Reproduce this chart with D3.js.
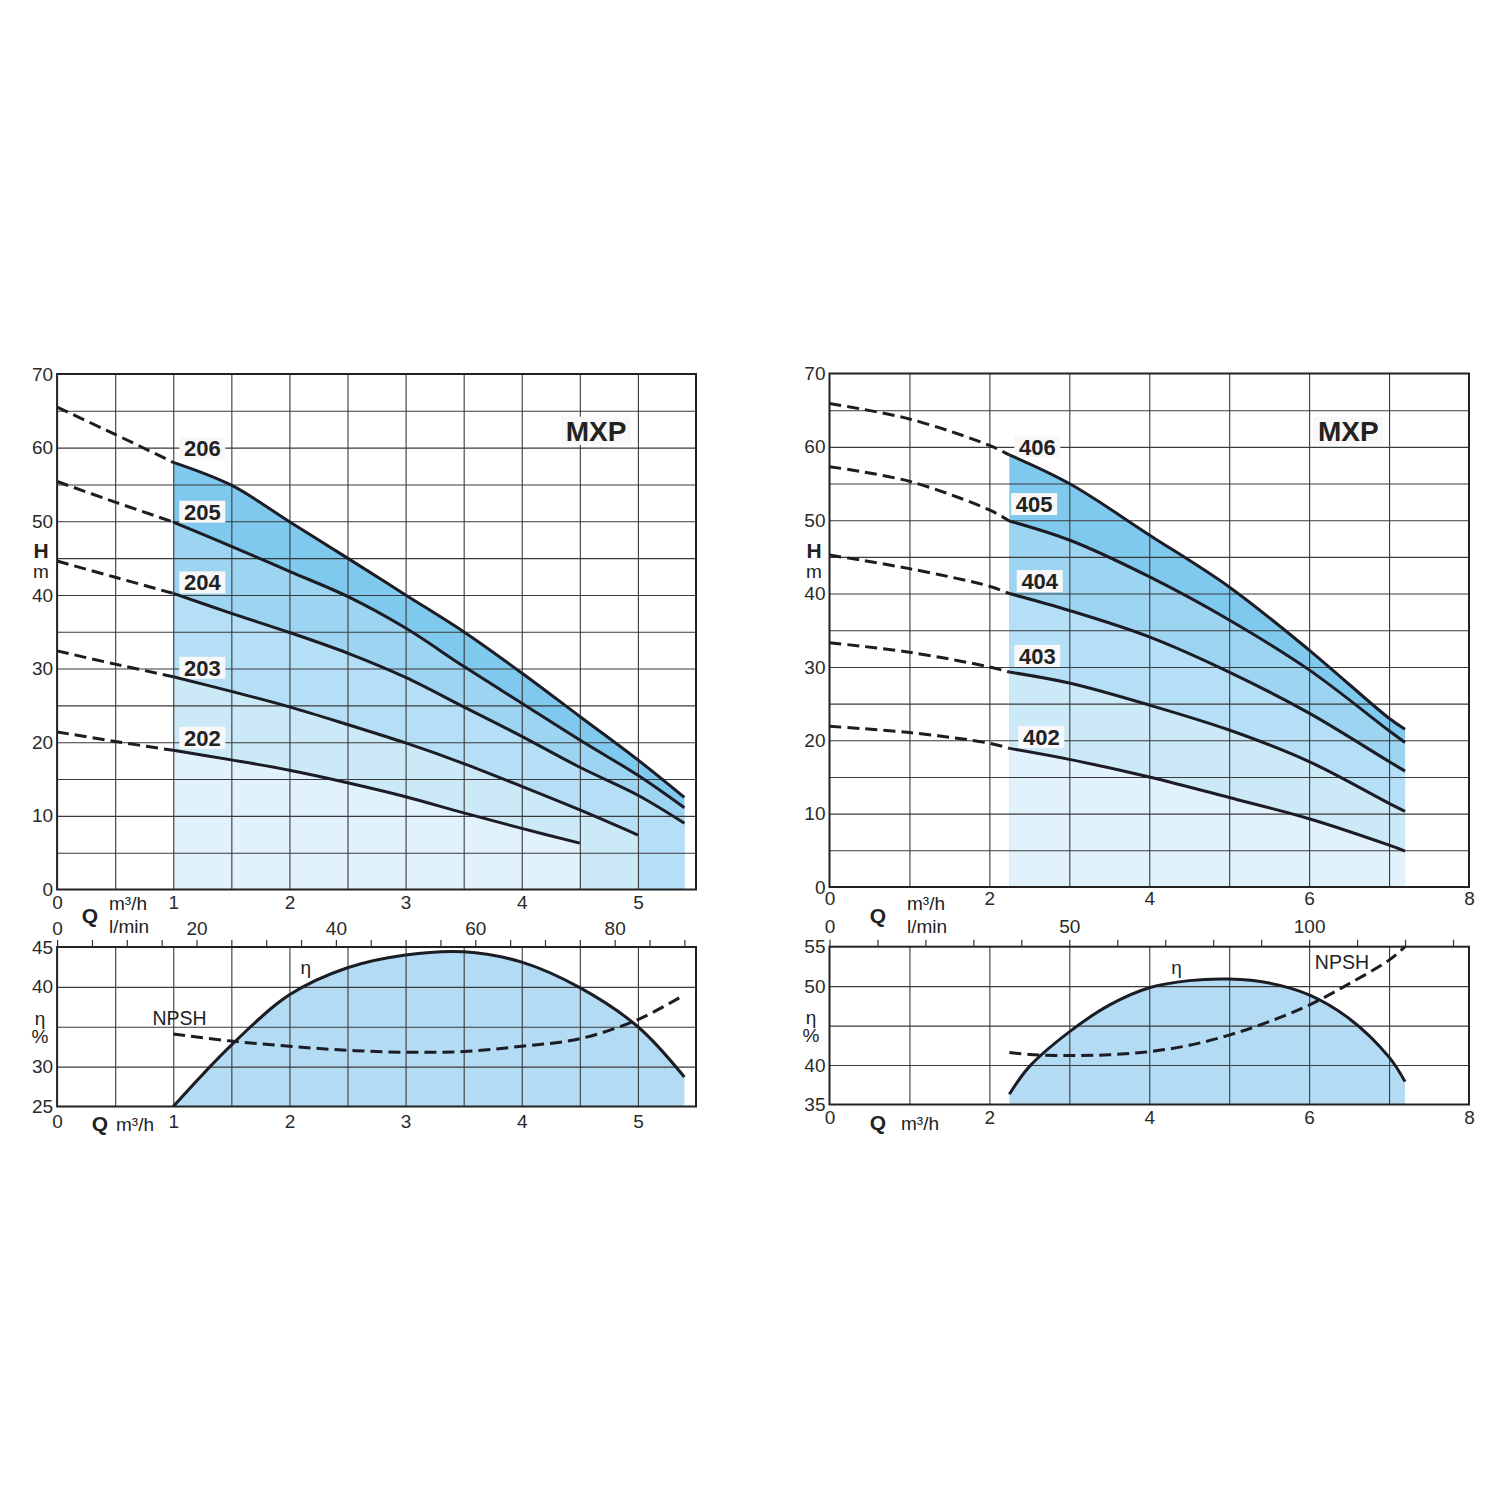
<!DOCTYPE html>
<html lang="en">
<head>
<meta charset="utf-8">
<title>MXP pump curves</title>
<script src="https://cdn.jsdelivr.net/npm/d3@7"></script>
<style>
  body { margin: 0; background: #fff; }
  text { font-family: "Liberation Sans", Arial, Helvetica, sans-serif; }
</style>
</head>
<body>
<script>

// ---- left set: MXP 202..206 ----
var leftModels = ["206", "205", "204", "203", "202"];
var qLeft = [1, 1.5, 2, 2.5, 3, 3.5, 4, 4.5, 5, 5.4];
var qLeftDash = [0, 0.5, 1];
var h206 = [58.0, 54.9, 49.95, 45.0, 40.0, 35.0, 29.4, 23.5, 17.6, 12.5];
var h205 = [49.9, 46.6, 43.2, 39.8, 35.5, 30.3, 25.3, 20.3, 15.5, 11.1];
var h204 = [40.2, 37.5, 34.9, 32.1, 28.8, 24.8, 20.8, 16.6, 12.8, 9.0];
var h203 = [28.9, 26.9, 24.8, 22.4, 19.9, 17.1, 14.0, 10.8, 7.4];
var h202 = [18.9, 17.6, 16.2, 14.5, 12.6, 10.4, 8.3, 6.3];
var h206Dash = [65.5, 61.8, 58.0];
var h205Dash = [55.4, 52.6, 49.9];
var h204Dash = [44.6, 42.4, 40.2];
var h203Dash = [32.4, 30.6, 28.9];
var h202Dash = [21.4, 20.1, 18.9];
var etaLeft  = [25.0, 32.7, 39.0, 42.4, 44.0, 44.4, 43.1, 39.9, 35.0, 28.7];
var npshLeft = [34.1, 33.2, 32.55, 32.05, 31.8, 31.9, 32.55, 33.5, 35.9, 39.0];

// ---- right set: MXP 402..406 ----
var rightModels = ["406", "405", "404", "403", "402"];
var qRight = [2.25, 3, 4, 5, 6, 7, 7.2];
var qRightDash = [0, 1, 2, 2.25];
var h406 = [58.9, 55.0, 48.0, 40.9, 32.3, 23.0, 21.5];
var h405 = [49.9, 47.3, 42.3, 36.4, 29.6, 21.3, 19.7];
var h404 = [40.0, 37.7, 34.1, 29.3, 23.7, 17.1, 15.8];
var h403 = [29.3, 27.8, 24.8, 21.4, 17.1, 11.4, 10.3];
var h402 = [18.9, 17.4, 15.0, 12.2, 9.3, 5.7, 4.9];
var h406Dash = [65.9, 63.8, 60.2, 58.9];
var h405Dash = [57.3, 55.3, 51.4, 49.9];
var h404Dash = [45.25, 43.4, 41.0, 40.0];
var h403Dash = [33.3, 32.0, 30.0, 29.3];
var h402Dash = [21.9, 21.05, 19.6, 18.9];
var qRightEff = [2.25, 2.5, 3, 3.5, 4, 4.5, 5, 5.5, 6, 6.5, 7, 7.2];
var etaRight  = [36.3, 39.8, 44.2, 47.6, 49.8, 50.7, 50.9, 50.4, 48.9, 45.9, 41.0, 37.9];
var npshRight = [41.6, 41.35, 41.2, 41.3, 41.7, 42.5, 43.8, 45.5, 47.6, 50.3, 53.3, 55.0];

// ---- tick labels ----
var hTicks = [0, 10, 20, 30, 40, 50, 60, 70];
var qTicksLeft = [0, 1, 2, 3, 4, 5];
var qTicksRight = [0, 2, 4, 6, 8];
var lminLabelsLeft = [0, 20, 40, 60, 80];
var lminLabelsRight = [0, 50, 100];
var effTicksLeft = [25, 30, 40, 45];
var effTicksRight = [35, 40, 50, 55];

var bandColors = ["#7fc8ee", "#9dd4f2", "#b5dff6", "#cce9f8", "#e2f2fc"];
var effFill = "#b3dcf4";
var ink = "#1c1c24";

var svg = d3.select("body").append("svg")
    .attr("width", 1500)
    .attr("height", 1500);

function panel(p) {
  var x = d3.scaleLinear().domain([0, p.qMax]).range(p.xRange);
  var y = d3.scaleLinear().domain([0, 70]).range(p.yRange);
  var yB = d3.scaleLinear().domain(p.effDomain).range(p.yBRange);
  var lmin = d3.scaleLinear().domain([0, p.qMax * 1000 / 60]).range(p.xRange);
  var smooth = d3.curveCatmullRom.alpha(0.5);

  var g = svg.append("g");
  var xs = function(sx, sy) {
    return d3.line().x(function(d) { return sx(d[0]); })
                    .y(function(d) { return sy(d[1]); })
                    .curve(smooth);
  };

  // stacked fills, widest/highest first
  p.curves.forEach(function(c, i) {
    g.append("path")
      .datum(d3.zip(c.q, c.h))
      .attr("fill", bandColors[i])
      .attr("d", d3.area()
        .x(function(d) { return x(d[0]); })
        .y0(y(0))
        .y1(function(d) { return y(d[1]); })
        .curve(smooth));
  });
  g.append("path")
    .datum(d3.zip(p.qEff, p.eta))
    .attr("fill", effFill)
    .attr("d", d3.area()
      .x(function(d) { return x(d[0]); })
      .y0(yB(p.effDomain[0]))
      .y1(function(d) { return yB(d[1]); })
      .curve(smooth));

  // grids
  var gridX = d3.range(p.xStep, p.qMax - 1e-6, p.xStep);
  function grid(sy, vals, top, bottom) {
    g.append("g")
      .attr("transform", "translate(0," + bottom + ")")
      .call(d3.axisBottom(x).tickValues(gridX).tickSize(-(bottom - top)).tickFormat(""))
      .call(function(a) { a.select(".domain").remove(); })
      .selectAll("line").attr("stroke", "#3a3a3a").attr("stroke-width", 1.1);
    g.append("g")
      .attr("transform", "translate(" + p.xRange[0] + ",0)")
      .call(d3.axisLeft(sy).tickValues(vals).tickSize(-(p.xRange[1] - p.xRange[0])).tickFormat(""))
      .call(function(a) { a.select(".domain").remove(); })
      .selectAll("line").attr("stroke", "#3a3a3a").attr("stroke-width", 1.1);
  }
  grid(y, d3.range(5, 70, 5), p.yRange[1], p.yRange[0]);
  grid(yB, d3.range(p.effDomain[0] + 5, p.effDomain[1], 5), p.yBRange[1], p.yBRange[0]);

  // model labels and MXP with white boxes
  function boxedLabel(tx, ty, txt, size, w, h) {
    g.append("rect").attr("x", tx - w / 2).attr("y", ty - h / 2)
      .attr("width", w).attr("height", h).attr("fill", "#f8f8f8");
    g.append("text").attr("x", tx).attr("y", ty).attr("dy", "0.36em")
      .attr("text-anchor", "middle").attr("font-weight", "bold")
      .attr("font-size", size).attr("fill", "#222").text(txt);
  }
  p.models.forEach(function(m, i) {
    boxedLabel(x(p.labelQ[i]), y(p.labelH[i]), m, 22, 46, 22);
  });
  boxedLabel(x(p.mxpQ), y(p.mxpH), "MXP", 28, 70, 28);

  // curves
  p.curves.forEach(function(c) {
    g.append("path").datum(d3.zip(c.qDash, c.hDash))
      .attr("fill", "none").attr("stroke", ink).attr("stroke-width", 3)
      .attr("stroke-dasharray", "12,6").attr("d", xs(x, y));
    g.append("path").datum(d3.zip(c.q, c.h))
      .attr("fill", "none").attr("stroke", ink).attr("stroke-width", 3)
      .attr("d", xs(x, y));
  });
  g.append("path").datum(d3.zip(p.qEff, p.eta))
    .attr("fill", "none").attr("stroke", ink).attr("stroke-width", 3)
    .attr("d", xs(x, yB));
  g.append("path").datum(d3.zip(p.qEff, p.npsh))
    .attr("fill", "none").attr("stroke", ink).attr("stroke-width", 3)
    .attr("stroke-dasharray", "12,6").attr("d", xs(x, yB));

  // borders
  [[p.yRange[1], p.yRange[0]], [p.yBRange[1], p.yBRange[0]]].forEach(function(b) {
    g.append("rect").attr("x", p.xRange[0]).attr("y", b[0])
      .attr("width", p.xRange[1] - p.xRange[0]).attr("height", b[1] - b[0])
      .attr("fill", "none").attr("stroke", "#222").attr("stroke-width", 2);
  });

  // axes labels
  function styleAxis(a) {
    a.select(".domain").remove();
    a.attr("font-family", "Liberation Sans, Arial, sans-serif")
     .attr("font-size", 19).attr("color", "#2a2a2a");
  }
  var fmt = d3.format("d");
  g.append("g").attr("transform", "translate(" + p.xRange[0] + ",0)")
    .call(d3.axisLeft(y).tickValues(hTicks).tickSize(0).tickPadding(4)).call(styleAxis);
  g.append("g").attr("transform", "translate(" + p.xRange[0] + ",0)")
    .call(d3.axisLeft(yB).tickValues(p.effTicks).tickSize(0).tickPadding(4)).call(styleAxis);
  g.append("g").attr("transform", "translate(0," + p.yRange[0] + ")")
    .call(d3.axisBottom(x).tickValues(p.qTicks).tickFormat(fmt).tickSize(0).tickPadding(p.xPadTop)).call(styleAxis);
  g.append("g").attr("transform", "translate(0," + p.yBRange[0] + ")")
    .call(d3.axisBottom(x).tickValues(p.qTicks).tickFormat(fmt).tickSize(0).tickPadding(p.xPadBottom)).call(styleAxis);
  var lminAll = d3.range(0, p.qMax * 1000 / 60, p.lminStep);
  g.append("g").attr("transform", "translate(0," + p.yBRange[1] + ")")
    .call(d3.axisTop(lmin).tickValues(lminAll).tickSize(7).tickPadding(p.lminPad)
      .tickFormat(function(d) { return p.lminLabels.indexOf(d) >= 0 ? d : ""; }))
    .call(styleAxis)
    .selectAll("line").attr("stroke", "#333").attr("stroke-width", 1.2);

  // unit captions
  function txt(tx, ty, s, size, bold, anchor) {
    g.append("text").attr("x", tx).attr("y", ty).attr("dy", "0.35em")
      .attr("font-size", size).attr("font-weight", bold ? "bold" : "normal")
      .attr("text-anchor", anchor || "middle").attr("fill", "#222").text(s);
  }
  var c = p.captions;
  txt(c.hx, c.hy, "H", 21, true);
  txt(c.hx, c.hy + 20, "m", 19, false);
  txt(c.qx, c.qy, "Q", 21, true);
  txt(c.ux, c.qy - 13, "m\u00b3/h", 19, false, "start");
  txt(c.ux, c.qy + 10, "l/min", 19, false, "start");
  txt(c.ex, c.ey, "\u03b7", 19, false);
  txt(c.ex, c.ey + 18, "%", 19, false);
  txt(c.qx + c.qbDx, c.qby, "Q", 21, true);
  txt(c.ubx, c.qby, "m\u00b3/h", 19, false, "start");
  txt(x(p.etaLabel[0]), yB(p.etaLabel[1]), "\u03b7", 19, false);
  txt(x(p.npshLabel[0]), yB(p.npshLabel[1]), "NPSH", 19.5, false);
}

panel({
  qMax: 5.5, xStep: 0.5, xRange: [57.1, 696], yRange: [889.5, 374],
  effDomain: [25, 45], yBRange: [1106.5, 947],
  models: leftModels,
  curves: [
    {q: qLeft, h: h206, qDash: qLeftDash, hDash: h206Dash},
    {q: qLeft, h: h205, qDash: qLeftDash, hDash: h205Dash},
    {q: qLeft, h: h204, qDash: qLeftDash, hDash: h204Dash},
    {q: qLeft.slice(0, h203.length), h: h203, qDash: qLeftDash, hDash: h203Dash},
    {q: qLeft.slice(0, h202.length), h: h202, qDash: qLeftDash, hDash: h202Dash}
  ],
  labelQ: [1.25, 1.25, 1.25, 1.25, 1.25],
  labelH: [59.9, 51.3, 41.7, 30.1, 20.6],
  mxpQ: 4.64, mxpH: 62.3,
  qEff: qLeft, eta: etaLeft, npsh: npshLeft,
  effTicks: effTicksLeft, qTicks: qTicksLeft,
  lminStep: 5, lminLabels: lminLabelsLeft, lminPad: 5,
  xPadTop: 6, xPadBottom: 8,
  etaLabel: [2.14, 42.4], npshLabel: [1.054, 36.1],
  captions: {hx: 41, hy: 551, qx: 90, qy: 916, ux: 109, ex: 40, ey: 1018,
             qbDx: 10, qby: 1124, ubx: 116}
});

panel({
  qMax: 8, xStep: 1, xRange: [829.5, 1469], yRange: [887, 373.5],
  effDomain: [35, 55], yBRange: [1104.5, 946.7],
  models: rightModels,
  curves: [
    {q: qRight, h: h406, qDash: qRightDash, hDash: h406Dash},
    {q: qRight, h: h405, qDash: qRightDash, hDash: h405Dash},
    {q: qRight, h: h404, qDash: qRightDash, hDash: h404Dash},
    {q: qRight, h: h403, qDash: qRightDash, hDash: h403Dash},
    {q: qRight, h: h402, qDash: qRightDash, hDash: h402Dash}
  ],
  labelQ: [2.6, 2.56, 2.63, 2.6, 2.65],
  labelH: [60.0, 52.2, 41.7, 31.5, 20.45],
  mxpQ: 6.49, mxpH: 62.2,
  qEff: qRightEff, eta: etaRight, npsh: npshRight,
  effTicks: effTicksRight, qTicks: qTicksRight,
  lminStep: 10, lminLabels: lminLabelsRight, lminPad: 7,
  xPadTop: 5, xPadBottom: 6,
  etaLabel: [4.34, 52.4], npshLabel: [6.41, 53.1],
  captions: {hx: 814, hy: 551, qx: 878, qy: 916, ux: 907, ex: 811, ey: 1017,
             qbDx: 0, qby: 1123, ubx: 901}
});

</script>
</body>
</html>
